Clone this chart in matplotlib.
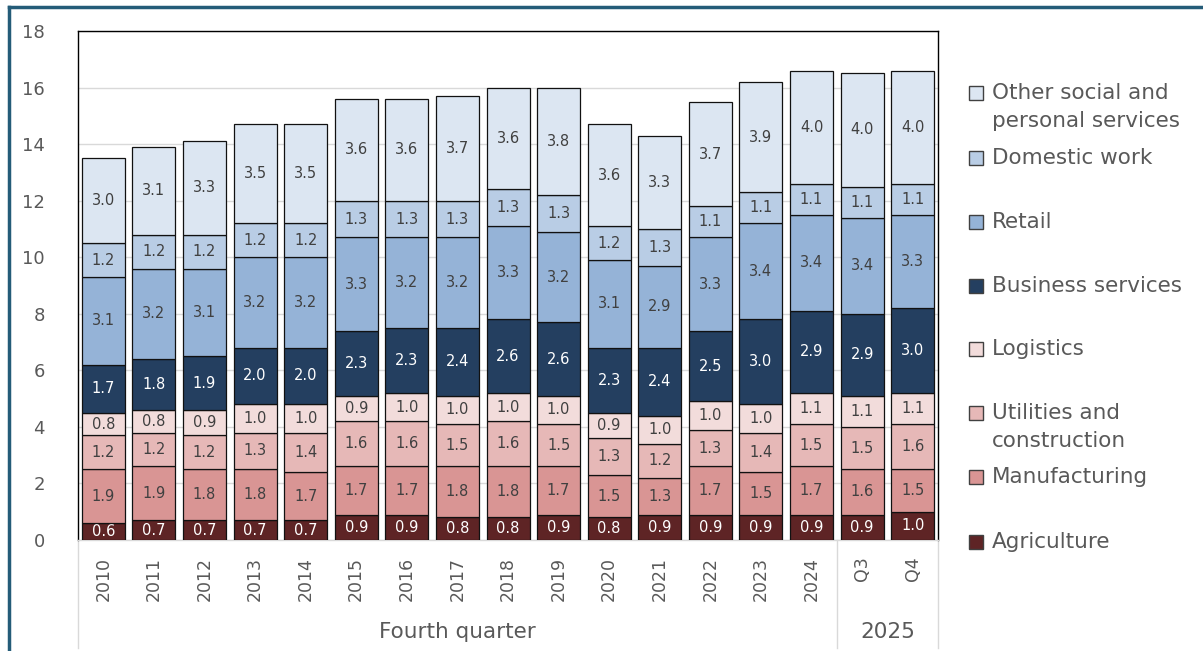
import numpy as np
import matplotlib
matplotlib.use("Agg")
import matplotlib.pyplot as plt
from matplotlib.patches import Rectangle
from matplotlib.lines import Line2D

plt.rcParams["font.family"] = ["DejaVu Sans"]

categories = ["2010", "2011", "2012", "2013", "2014", "2015", "2016", "2017",
              "2018", "2019", "2020", "2021", "2022", "2023", "2024", "Q3", "Q4"]
groups = [("Fourth quarter", 0, 14), ("2025", 15, 16)]

series_names = [
    "Agriculture",
    "Manufacturing",
    "Utilities and\nconstruction",
    "Logistics",
    "Business services",
    "Retail",
    "Domestic work",
    "Other social and\npersonal services",
]

agriculture = [0.6, 0.7, 0.7, 0.7, 0.7, 0.9, 0.9, 0.8, 0.8, 0.9, 0.8, 0.9, 0.9, 0.9, 0.9, 0.9, 1.0]
manufacturing = [1.9, 1.9, 1.8, 1.8, 1.7, 1.7, 1.7, 1.8, 1.8, 1.7, 1.5, 1.3, 1.7, 1.5, 1.7, 1.6, 1.5]
utilities = [1.2, 1.2, 1.2, 1.3, 1.4, 1.6, 1.6, 1.5, 1.6, 1.5, 1.3, 1.2, 1.3, 1.4, 1.5, 1.5, 1.6]
logistics = [0.8, 0.8, 0.9, 1.0, 1.0, 0.9, 1.0, 1.0, 1.0, 1.0, 0.9, 1.0, 1.0, 1.0, 1.1, 1.1, 1.1]
business = [1.7, 1.8, 1.9, 2.0, 2.0, 2.3, 2.3, 2.4, 2.6, 2.6, 2.3, 2.4, 2.5, 3.0, 2.9, 2.9, 3.0]
retail = [3.1, 3.2, 3.1, 3.2, 3.2, 3.3, 3.2, 3.2, 3.3, 3.2, 3.1, 2.9, 3.3, 3.4, 3.4, 3.4, 3.3]
domestic = [1.2, 1.2, 1.2, 1.2, 1.2, 1.3, 1.3, 1.3, 1.3, 1.3, 1.2, 1.3, 1.1, 1.1, 1.1, 1.1, 1.1]
other = [3.0, 3.1, 3.3, 3.5, 3.5, 3.6, 3.6, 3.7, 3.6, 3.8, 3.6, 3.3, 3.7, 3.9, 4.0, 4.0, 4.0]

series = [agriculture, manufacturing, utilities, logistics, business, retail, domestic, other]

colors = ["#5E2425", "#D99594", "#E6B8B7", "#F2DCDB",
          "#243F60", "#95B3D7", "#B9CDE5", "#DCE6F2"]
label_colors = ["white", "#404040", "#404040", "#404040",
                "white", "#404040", "#404040", "#404040"]

W, H = 1203, 651
fig = plt.figure(figsize=(W / 100, H / 100), dpi=100)
ax = fig.add_axes([78 / W, 1 - 540 / H, (938 - 78) / W, (540 - 31) / H])

x = np.arange(len(categories))
bottom = np.zeros(len(categories))
for vals, col, lcol in zip(series, colors, label_colors):
    bars = ax.bar(x, vals, width=0.85, bottom=bottom, color=col,
                  edgecolor="#111111", linewidth=0.9, zorder=3)
    ax.bar_label(bars, labels=[f"{v:.1f}" for v in vals], label_type="center",
                 color=lcol, fontsize=10.5)
    bottom += np.array(vals)

ax.set_xlim(-0.5, len(categories) - 0.5)
ax.set_ylim(0, 18)
ax.set_yticks(np.arange(0, 19, 2))
ax.yaxis.grid(True, color="#D9D9D9", linewidth=1, zorder=0)
ax.tick_params(axis="y", length=0, pad=24, labelsize=13, labelcolor="#595959")
ax.set_xticks(x)
ax.set_xticklabels(categories, rotation=90, fontsize=12.5, color="#595959")
ax.tick_params(axis="x", length=0, pad=12)

for side in ["left", "top", "right"]:
    ax.spines[side].set_color("black")
    ax.spines[side].set_linewidth(1)
ax.spines["bottom"].set_color("#D9D9D9")
ax.spines["bottom"].set_linewidth(1)

# multi-level category axis: group labels and separators
trans = ax.get_xaxis_transform()
sep_bottom = -(648 - 540) / (540 - 31)
for name, i0, i1 in groups:
    ax.text((i0 + i1) / 2, -(632 - 540) / (540 - 31), name, transform=trans,
            ha="center", va="center", fontsize=15.5, color="#595959")
for xs in [-0.5, 14.5, 16.5]:
    ax.add_line(Line2D([xs, xs], [0, sep_bottom], transform=trans,
                       color="#D9D9D9", linewidth=1, clip_on=False))

# legend, drawn in Excel style (top series first)
leg_y = [93, 158, 222, 286, 349, 413, 477, 542]
for k, yy in enumerate(leg_y):
    idx = len(series) - 1 - k
    fig.add_artist(Rectangle((969 / W, 1 - (yy + 7) / H), 14 / W, 14 / H,
                             transform=fig.transFigure, facecolor=colors[idx],
                             edgecolor="#404040", linewidth=1))
    for j, line in enumerate(series_names[idx].split("\n")):
        fig.text(992 / W, 1 - (yy + j * 28) / H, line, ha="left", va="center",
                 fontsize=15.5, color="#595959")

# outer frame
frame_col = "#245C78"
fig.add_artist(Line2D([9 / W, 1], [1 - 7 / H, 1 - 7 / H], transform=fig.transFigure,
                      color=frame_col, linewidth=2.5))
fig.add_artist(Line2D([9 / W, 9 / W], [0, 1 - 7 / H], transform=fig.transFigure,
                      color=frame_col, linewidth=2.5))

fig.savefig("out.png", dpi=100)
